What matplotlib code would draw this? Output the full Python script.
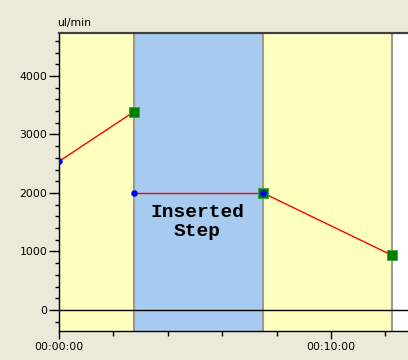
import matplotlib
matplotlib.use('Agg')
import matplotlib.pyplot as plt
from matplotlib.ticker import FixedLocator, MultipleLocator

# step data (time in minutes, flow in ul/min)
step_start = [0.0, 2.76, 7.5]
step_end = [2.76, 7.5, 12.24]
flow_start = [2540, 2000, 2000]
flow_end = [3390, 2000, 935]
step_kind = ['normal', 'inserted', 'normal']

x_major = [0, 10]
x_major_labels = ['00:00:00', '00:10:00']
y_major = [0, 1000, 2000, 3000, 4000]

BG = '#ECE9D8'
YELLOW = '#FFFFC0'
BLUE = '#A6CAF0'
EDGE = '#9A9A9A'

plt.rcParams.update({
    'font.family': 'DejaVu Sans',
    'font.size': 7.8,
})

fig = plt.figure(figsize=(4.08, 3.60), dpi=100, facecolor=BG)
ax = fig.add_axes([59 / 408, 29 / 360, 349 / 408, 298 / 360])
ax.set_facecolor('white')

for s, e, kind in zip(step_start, step_end, step_kind):
    ax.axvspan(s, e, color=BLUE if kind == 'inserted' else YELLOW, lw=0, zorder=0)
    ax.axvline(e, color=EDGE, lw=1.5, zorder=1)

ax.axhline(0, color='black', lw=1.0, zorder=2)

for s, e, v0, v1 in zip(step_start, step_end, flow_start, flow_end):
    ax.plot([s, e], [v0, v1], color='#FF0000', lw=1.0, zorder=3)
ax.scatter(step_end, flow_end, marker='s', s=42, color='#008000',
           edgecolors='#3CA03C', linewidths=0.6, zorder=4)
ax.scatter(step_start, flow_start, marker='o', s=22, color='#0000FF',
           linewidths=0, zorder=5)

# label for the inserted step
i = step_kind.index('inserted')
ax.text((step_start[i] + step_end[i]) / 2 - 0.05, 1500, 'Inserted\nStep',
        ha='center', va='center', family='Liberation Mono', weight='bold',
        fontsize=14, linespacing=1.15, zorder=6)

ax.set_xlim(0, 12.83)
ax.set_ylim(-360, 4735)

ax.xaxis.set_major_locator(FixedLocator(x_major))
ax.set_xticklabels(x_major_labels)
ax.xaxis.set_minor_locator(MultipleLocator(2))
ax.yaxis.set_major_locator(FixedLocator(y_major))
ax.yaxis.set_minor_locator(MultipleLocator(200))

ax.tick_params(axis='x', which='major', length=6, width=1, pad=2, colors='black')
ax.tick_params(axis='x', which='minor', length=3.6, width=1)
ax.tick_params(axis='y', which='major', length=7.5, width=1, pad=1)
ax.tick_params(axis='y', which='minor', length=3, width=1)

for side in ['left', 'bottom']:
    ax.spines[side].set_color('black')
    ax.spines[side].set_linewidth(1.0)
ax.spines['top'].set_color('#404040')
ax.spines['top'].set_linewidth(1.6)
ax.spines['right'].set_visible(False)

fig.text(74 / 408, 1 - 23 / 360, 'ul/min', ha='center', va='center', fontsize=7.8)

fig.savefig('out.png', dpi=100, facecolor=BG)
